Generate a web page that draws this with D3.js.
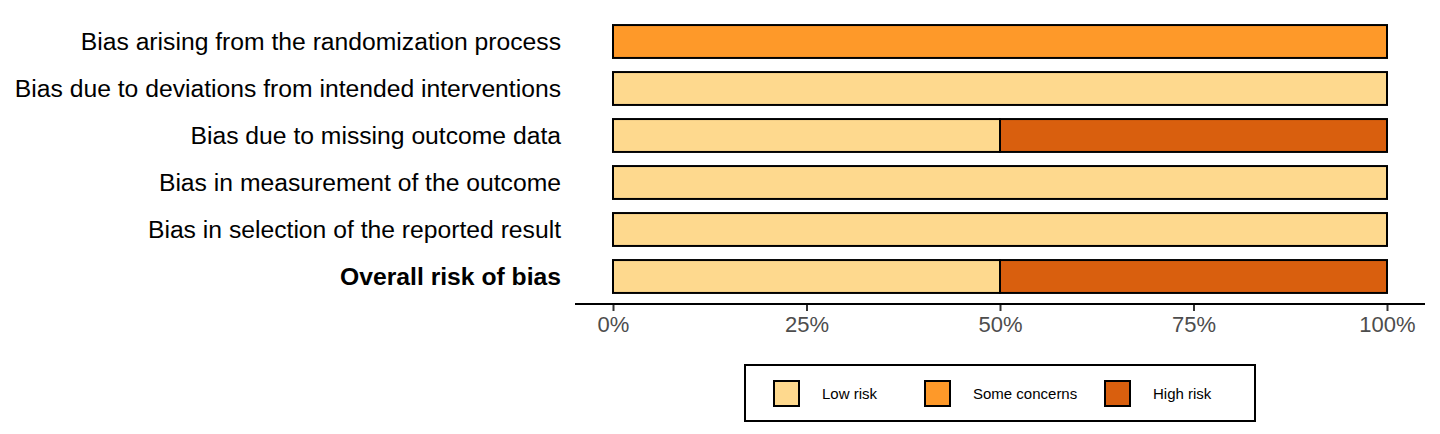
<!DOCTYPE html>
<html>
<head>
<meta charset="utf-8">
<script src="https://cdn.jsdelivr.net/npm/d3@7"></script>
<style>
  body { margin: 0; background: #fff; }
  text { font-family: "Liberation Sans", Arial, sans-serif; }
</style>
</head>
<body>
<svg id="chart"></svg>
<script>
var domains = [
    "Bias arising from the randomization process",
    "Bias due to deviations from intended interventions",
    "Bias due to missing outcome data",
    "Bias in measurement of the outcome",
    "Bias in selection of the reported result",
    "Overall risk of bias"
];
var judgements = ["Low risk", "Some concerns", "High risk"];
var colours = ["#fed98e", "#fe9929", "#d95f0e"];
var lowRisk = [0, 1, 0.5, 1, 1, 0.5];
var someConcerns = [1, 0, 0, 0, 0, 0];
var highRisk = [0, 0, 0.5, 0, 0, 0.5];
var tickValues = [0, 0.25, 0.5, 0.75, 1];

var width = 1440, height = 434;
var svg = d3.select("#chart").attr("width", width).attr("height", height);

var x = d3.scaleLinear().domain([0, 1]).range([613, 1387]);
var y = d3.scaleBand().domain(domains).range([18, 300]).paddingInner(0.3).paddingOuter(0.15);

var rows = domains.map(function(d, i) {
    return { domain: d, values: [lowRisk[i], someConcerns[i], highRisk[i]] };
});

var stack = [];
rows.forEach(function(r) {
    var start = 0;
    r.values.forEach(function(v, j) {
        if (v > 0) {
            stack.push({ domain: r.domain, x0: start, x1: start + v, j: j });
        }
        start += v;
    });
});

svg.append("g").selectAll("rect")
    .data(stack)
    .enter()
    .append("rect")
    .attr("x", function(d) { return x(d.x0); })
    .attr("width", function(d) { return x(d.x1) - x(d.x0); })
    .attr("y", function(d) { return y(d.domain); })
    .attr("height", y.bandwidth())
    .attr("fill", function(d) { return colours[d.j]; })
    .attr("stroke", "#000")
    .attr("stroke-width", 2);

// domain labels
svg.append("g").selectAll("text")
    .data(domains)
    .enter()
    .append("text")
    .attr("x", 561)
    .attr("y", function(d) { return y(d) + y.bandwidth() / 2; })
    .attr("dy", "0.35em")
    .attr("text-anchor", "end")
    .attr("font-size", 24.7)
    .attr("font-weight", function(d, i) { return i === domains.length - 1 ? "bold" : "normal"; })
    .attr("fill", "#000")
    .text(function(d) { return d; });

// x axis
var axisY = 304;
var axis = d3.axisBottom(x)
    .tickValues(tickValues)
    .tickFormat(d3.format(".0%"))
    .tickSize(7)
    .tickSizeOuter(0);
var gAxis = svg.append("g").attr("transform", "translate(0," + axisY + ")").call(axis);
gAxis.select(".domain").remove();
gAxis.append("line")
    .attr("x1", 575).attr("x2", 1425)
    .attr("y1", 0).attr("y2", 0)
    .attr("stroke", "#000").attr("stroke-width", 2);
gAxis.selectAll(".tick line").attr("stroke", "#333").attr("stroke-width", 2);
gAxis.selectAll(".tick text")
    .attr("font-family", "Liberation Sans, Arial, sans-serif")
    .attr("font-size", 22)
    .attr("fill", "#4d4d4d")
    .attr("y", 12);

// legend
var legend = svg.append("g").attr("transform", "translate(745,365)");
legend.append("rect")
    .attr("width", 510).attr("height", 56)
    .attr("fill", "#fff").attr("stroke", "#000").attr("stroke-width", 2);
var keyX = [29, 180, 360];
var item = legend.selectAll(".item")
    .data(judgements)
    .enter()
    .append("g")
    .attr("transform", function(d, i) { return "translate(" + keyX[i] + ",16)"; });
item.append("rect")
    .attr("width", 25).attr("height", 25)
    .attr("fill", function(d, i) { return colours[i]; })
    .attr("stroke", "#000").attr("stroke-width", 2);
item.append("text")
    .attr("x", 48)
    .attr("y", 12.5)
    .attr("dy", "0.35em")
    .attr("font-size", 15)
    .attr("fill", "#000")
    .text(function(d) { return d; });
</script>
</body>
</html>
